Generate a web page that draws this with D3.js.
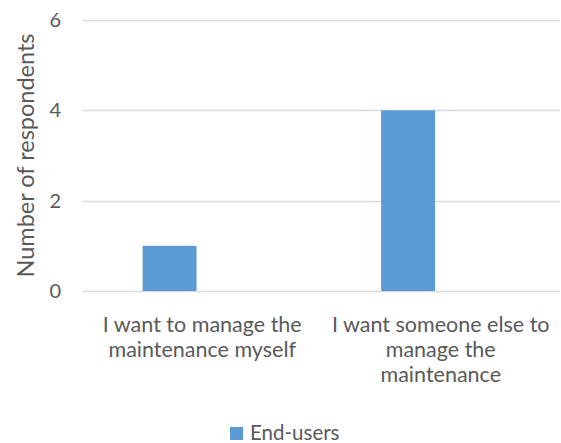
<!DOCTYPE html>
<html>
<head>
<meta charset="utf-8">
<script src="https://cdn.jsdelivr.net/npm/d3@7/dist/d3.min.js"></script>
<style>
  html, body { margin: 0; padding: 0; background: #fff; }
  svg { display: block; }
  text { font-family: Lato, "Open Sans", sans-serif; fill: #595959; }
</style>
</head>
<body>
<svg id="chart" width="561" height="443"></svg>
<script>
const categories = [
  ["I want to manage the", "maintenance myself"],
  ["I want someone else to", "manage the", "maintenance"]
];
const seriesName = "End-users";
const values = [1, 4];
const yTicks = [0, 2, 4, 6];
const yTitle = "Number of respondents";

const W = 561, H = 443;
const margin = { left: 83, right: 1, top: 20, bottom: 152 };
const svg = d3.select("#chart");

const x = d3.scaleBand()
  .domain(d3.range(categories.length))
  .range([margin.left, W - margin.right])
  .padding(0);

const y = d3.scaleLinear()
  .domain([0, 6])
  .range([H - margin.bottom, margin.top]);

// Horizontal gridlines
svg.append("g")
  .selectAll("line")
  .data(yTicks)
  .join("line")
  .attr("x1", margin.left)
  .attr("x2", W - margin.right)
  .attr("y1", d => Math.round(y(d)) + 0.5)
  .attr("y2", d => Math.round(y(d)) + 0.5)
  .attr("stroke", "#D9D9D9")
  .attr("stroke-width", 1.5);

// Y tick labels
const yAxis = d3.axisLeft(y).tickValues(yTicks).tickFormat(d3.format("d")).tickSize(0).tickPadding(0);
const gy = svg.append("g")
  .attr("transform", `translate(${margin.left - 22},0)`)
  .call(yAxis);
gy.select(".domain").remove();
gy.selectAll("text")
  .style("font-family", "Lato, 'Open Sans', sans-serif")
  .style("font-size", "20px")
  .attr("fill", "#595959");

// Bars (series sits in the left part of each category slot)
const bw = x.bandwidth();
svg.append("g")
  .selectAll("rect")
  .data(values)
  .join("rect")
  .attr("x", (d, i) => x(i) + bw * 0.25)
  .attr("width", bw * 0.226)
  .attr("y", d => y(d))
  .attr("height", d => y(0) - y(d))
  .attr("fill", "#5B9BD5");

// Category labels
const gx = svg.append("g");
categories.forEach((lines, i) => {
  const t = gx.append("text")
    .attr("x", x(i) + bw / 2)
    .attr("y", y(0) + 41)
    .attr("text-anchor", "middle")
    .style("font-size", "21.5px");
  lines.forEach((ln, j) => {
    t.append("tspan")
      .attr("x", x(i) + bw / 2)
      .attr("dy", j === 0 ? 0 : 25)
      .text(ln);
  });
});

// Y axis title
svg.append("text")
  .attr("transform", `translate(34,${(y(0) + y(6)) / 2}) rotate(-90)`)
  .attr("text-anchor", "middle")
  .style("font-size", "23.5px")
  .text(yTitle);

// Legend
const lg = svg.append("g").attr("transform", "translate(230,427)");
lg.append("rect").attr("width", 13).attr("height", 13).attr("fill", "#5B9BD5");
lg.append("text")
  .attr("x", 20)
  .attr("y", 13)
  .style("font-size", "20.5px")
  .text(seriesName);
</script>
</body>
</html>
